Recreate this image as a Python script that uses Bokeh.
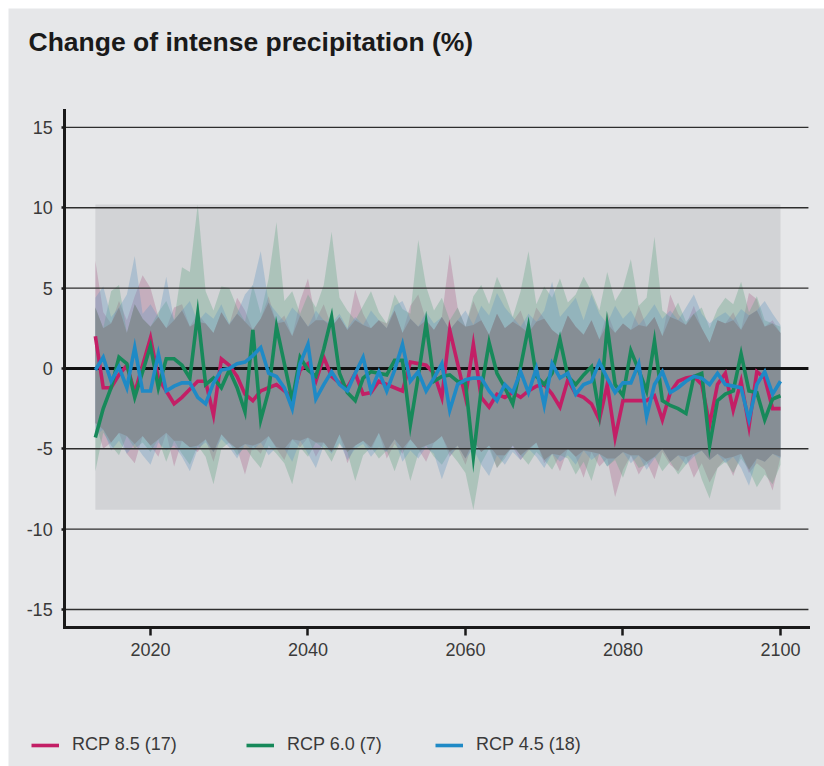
import numpy as np
from bokeh.plotting import figure
from bokeh.models import Range1d, FixedTicker, Legend, LegendItem, Label
from bokeh.embed import file_html
from bokeh.resources import INLINE

years = list(range(2013, 2101))

rcp85 = [2.0, -1.2, -1.2, -0.4, 0.2, -1.5, 0.2, 1.9, -0.6, -1.4,
         -2.2, -1.8, -1.3, -0.8, -0.8, -2.9, 0.6, 0.2, -0.5, -1.6,
         -2.0, -1.4, -1.2, -1.0, -1.4, -1.8, -0.1, 0.3, -0.8, 0.7,
         -0.5, -0.9, -1.2, -0.3, -1.6, -1.5, -0.8, -1.0, -1.2, -1.4,
         0.4, 0.3, 0.2, -0.3, -1.8, 2.4, 0.3, -1.8, 1.5, -1.8,
         -2.4, -1.6, -1.8, -1.5, -1.8, -1.4, -1.1, -1.0, -1.6, -2.4,
         -0.7, -1.6, -1.8, -2.2, -3.2, -1.0, -4.3, -2.0, -2.0, -2.0,
         -2.0, -1.7, -3.2, -1.5, -0.8, -0.6, -0.5, -1.0, -3.5, -1.0,
         -0.3, -2.6, -0.8, -3.6, -0.2, -0.6, -2.5, -2.5]
rcp60 = [-4.3, -2.5, -1.2, 0.7, 0.3, -1.8, -0.2, 1.4, -1.2, 0.6,
         0.6, 0.2, -0.6, 3.4, -1.0, -0.6, -1.2, -0.1, -1.2, -2.7,
         2.4, -3.2, -1.4, 2.6, 0.3, -2.0, 0.7, -0.1, -0.5, 1.2,
         3.2, -0.3, -1.5, -2.0, -0.6, -0.2, -0.3, -0.4, 0.5, 0.5,
         -3.5, -0.5, 2.8, -0.8, -0.5, -0.4, -0.8, -0.9, -5.5, -1.3,
         1.6, -0.3, -1.2, -2.2, 0.1, 2.6, -0.5, -1.0, -0.3, 1.8,
         -0.5, -1.0, -0.4, 0.1, -2.8, 2.6, -1.0, -1.7, 1.1, -0.1,
         -1.4, 1.7, -2.0, -2.3, -2.5, -2.8, -0.5, -0.3, -4.8, -2.0,
         -1.6, -1.4, 0.9, -1.4, -1.5, -3.2, -1.9, -1.7]
rcp45 = [-0.1, 0.7, -0.8, 0.1, -1.2, 1.3, -1.4, -1.4, 0.9, -1.4,
         -1.1, -0.9, -0.9, -1.8, -2.2, -0.9, -0.1, 0.0, 0.3, 0.4,
         0.8, 1.3, -0.3, -0.5, -1.2, -2.5, 0.3, 1.5, -1.9, -1.0,
         -0.2, -1.0, -1.4, -0.3, 0.7, -1.4, -0.2, -1.4, -0.1, 1.5,
         -0.8, -0.2, -1.4, -0.6, 0.3, -2.6, -1.0, -0.7, -0.6, -0.6,
         -1.4, -2.0, -1.0, -1.5, -0.2, -1.5, 0.0, -2.3, 0.3, -0.6,
         -0.3, -1.6, -1.0, -0.8, 0.4, -0.6, -1.5, -0.9, -0.9, 0.3,
         -3.0, -1.0, -0.2, -1.5, -1.2, -0.8, -0.5, -0.6, -1.0, -0.3,
         -1.0, -1.1, -1.2, -3.2, -1.0, -0.2, -1.6, -0.8]

rcp85_hi = [6.7, 3.5, 2.8, 4.2, 3.0, 4.5, 5.8, 5.0, 3.2, 2.5,
            3.8, 4.0, 2.6, 3.4, 2.8, 2.2, 3.5, 2.7, 4.4, 3.6,
            2.4, 3.1, 4.5, 2.8, 3.3, 2.0, 4.2, 5.6, 3.0, 4.0,
            2.6, 3.2, 2.4, 4.9, 3.4, 2.5, 3.0, 2.8, 3.6, 2.2,
            3.9, 4.6, 3.0, 2.4, 3.2, 7.1, 3.8, 2.6, 4.2, 3.0,
            2.1, 3.4, 2.5, 2.9, 3.6, 2.2, 3.8, 3.1, 2.4, 2.0,
            3.3, 2.6, 2.1, 3.0, 1.8, 3.5, 2.2, 2.8, 2.4, 3.9,
            2.6, 3.2, 2.0, 4.6, 3.4, 2.7, 3.9, 2.5, 1.6, 3.0,
            2.8, 3.5, 2.4, 4.7, 4.3, 2.6, 3.0, 2.2]
rcp85_lo = [-3.4, -5.0, -4.6, -4.0, -5.3, -5.9, -4.2, -4.8, -5.5, -4.0,
            -6.1, -4.5, -4.9, -5.2, -4.4, -5.8, -4.1, -4.7, -5.0, -6.6,
            -4.8, -5.3, -4.2, -5.0, -5.7, -4.4, -4.9, -4.3, -5.5, -4.6,
            -5.2, -4.1, -5.9, -4.8, -4.5, -5.1, -4.0, -5.6, -4.7, -5.3,
            -4.4, -5.0, -5.8, -4.6, -4.2, -5.5, -4.9, -6.0, -4.5, -5.2,
            -4.8, -6.2, -5.4, -4.9, -5.7, -5.1, -4.6, -5.9, -5.3, -6.4,
            -5.0, -5.5, -6.8, -5.2, -6.1, -5.6, -8.0, -6.3, -5.4, -6.6,
            -5.8, -6.9, -5.2, -6.0, -6.4, -5.5, -6.8, -5.9, -7.1, -6.2,
            -5.6, -6.7, -5.3, -6.5, -5.9, -6.3, -7.6, -5.5]
rcp60_hi = [3.8, 2.5, 4.8, 5.2, 2.2, 4.0, 3.1, 2.6, 3.5, 4.2,
            3.0, 6.3, 6.0, 10.2, 4.8, 3.6, 5.1, 5.0, 3.8, 2.9,
            5.2, 3.4, 5.6, 9.1, 4.2, 4.8, 3.4, 4.6, 3.8, 5.2,
            8.5, 4.4, 3.6, 3.0, 3.9, 4.8, 3.5, 2.8, 4.6, 3.7,
            3.4, 8.0, 5.1, 3.6, 4.4, 3.0, 3.8, 2.6, 4.5, 5.2,
            4.0, 5.7, 4.6, 3.2, 4.8, 7.3, 4.0, 5.1, 4.4, 5.6,
            4.1, 4.6, 5.7, 4.8, 3.6, 6.0, 4.2, 5.0, 6.8, 3.9,
            4.4, 8.2, 3.6, 3.2, 4.1, 2.9, 3.4, 3.8, 2.5, 3.7,
            4.4, 4.0, 5.4, 3.5, 4.5, 3.0, 2.8, 2.6]
rcp60_lo = [-6.4, -4.0, -4.8, -5.4, -4.2, -5.0, -4.6, -5.2, -4.4, -5.8,
            -4.5, -5.3, -6.0, -4.8, -5.5, -7.2, -5.0, -4.6, -5.4, -4.9,
            -5.6, -6.2, -4.8, -5.3, -5.9, -7.2, -4.9, -5.5, -4.6, -5.0,
            -5.8, -4.7, -5.2, -7.0, -5.4, -4.9, -5.6, -5.1, -6.4, -5.0,
            -7.0, -5.3, -4.8, -5.5, -6.0, -5.2, -5.8, -6.5, -8.8, -5.9,
            -5.0, -6.2, -5.6, -4.8, -5.4, -6.0, -5.2, -5.7, -6.3, -5.4,
            -5.6, -6.6, -5.8, -7.0, -5.3, -6.1, -5.7, -6.8, -5.4, -6.2,
            -6.0, -5.5, -6.4, -5.8, -6.6, -6.0, -5.3, -6.9, -8.1, -6.2,
            -5.8, -6.5, -5.6, -6.3, -7.4, -6.6, -7.2, -6.0]
rcp45_hi = [4.4, 5.1, 3.2, 3.8, 4.6, 7.0, 3.4, 4.0, 3.2, 5.7,
            3.0, 3.6, 4.2, 2.9, 3.5, 3.1, 4.0, 2.8, 3.4, 4.6,
            5.2, 7.3, 4.1, 3.5, 2.9, 3.8, 3.3, 2.6, 3.6, 3.0,
            2.8, 3.4, 2.5, 3.2, 2.7, 3.6, 3.0, 2.5, 3.9, 4.2,
            3.1, 2.6, 3.5, 2.8, 3.2, 2.4, 3.0, 3.6, 2.7, 3.9,
            3.3, 4.7, 3.8, 3.2, 2.6, 3.4, 2.9, 3.6, 5.4, 3.2,
            3.8, 4.4, 3.0, 4.6, 3.4, 2.8, 3.9, 3.1, 3.6, 2.7,
            3.3, 4.0, 3.1, 3.6, 3.0, 3.8, 4.6, 3.4, 2.8, 3.2,
            3.5, 3.0, 3.7, 3.3, 3.6, 4.2, 3.4, 2.7]
rcp45_lo = [-4.2, -3.8, -5.1, -4.5, -5.3, -4.7, -5.4, -6.0, -4.6, -5.1,
            -4.8, -5.5, -6.4, -5.0, -4.6, -5.2, -4.4, -4.9, -5.6, -4.7,
            -5.1, -4.6, -5.4, -4.9, -5.0, -5.8, -4.5, -5.3, -6.2, -4.8,
            -5.3, -4.6, -5.7, -5.0, -4.7, -5.5, -4.9, -5.2, -4.4, -5.8,
            -5.1, -5.6, -4.9, -5.3, -6.9, -5.5, -4.8, -5.6, -5.0, -6.0,
            -6.7, -5.4, -6.0, -5.2, -5.7, -5.0, -5.5, -6.2, -5.3, -5.8,
            -5.4, -6.0, -5.1, -5.7, -5.3, -6.1, -5.6, -5.2, -5.9, -5.4,
            -6.3, -5.6, -5.0, -5.8, -5.4, -6.0, -5.5, -5.1, -5.7, -5.3,
            -5.9, -5.5, -6.2, -7.3, -5.6, -5.8, -5.3, -5.6]

labels = ["RCP 8.5 (17)", "RCP 6.0 (7)", "RCP 4.5 (18)"]
line_colors = ["#c31f66", "#17895a", "#1f8ac6"]
band_colors = ["#aa5f8a", "#5ea27e", "#5f95c2"]
x_ticks = [2020, 2040, 2060, 2080, 2100]
y_ticks = [-15, -10, -5, 0, 5, 10, 15]
title_text = "Change of intense precipitation (%)"

# axis extents (data units) and the canvas window around them
AX_X0, AX_X1 = 2009.1, 2103.55
AX_Y0, AX_Y1 = -16.1, 16.05
VIEW_X = (2001.97, 2105.59)
VIEW_Y = (-24.77, 22.40)

BG = "#e6e7e9"
FONT = "Liberation Sans"
TXT = "#3a3a3a"

p = figure(width=816, height=758, title=None,
           x_range=Range1d(*VIEW_X), y_range=Range1d(*VIEW_Y),
           output_backend="svg", toolbar_location=None, min_border=0,
           margin=(8, 0, 0, 8))
p.background_fill_color = BG
p.border_fill_color = BG
p.outline_line_color = None
p.grid.visible = False

lows = [rcp85_lo, rcp60_lo, rcp45_lo]
highs = [rcp85_hi, rcp60_hi, rcp45_hi]
env_low = min(min(v) for v in lows)
env_high = max(max(v) for v in highs)

# grey envelope box around all model ranges
p.quad(left=[years[0]], right=[years[-1]], bottom=[env_low], top=[env_high],
       fill_color="#d2d3d6", line_color=None)

# model spread per scenario
for lo, hi, c in zip(lows, highs, band_colors):
    p.varea(x=years, y1=lo, y2=hi, fill_color=c, fill_alpha=0.32)

# part shared by all three ranges
core_lo = np.maximum.reduce([np.array(v) for v in lows])
core_hi = np.minimum.reduce([np.array(v) for v in highs])
p.varea(x=years, y1=core_lo, y2=core_hi, fill_color="#85888f", fill_alpha=0.8)

# horizontal grid lines (zero line heavier)
other = [t for t in y_ticks if t != 0]
p.segment(x0=[AX_X0] * len(other), x1=[AX_X1] * len(other), y0=other, y1=other,
          line_color="#2e2e2e", line_width=1.4)
p.segment(x0=[AX_X0], x1=[AX_X1], y0=[0], y1=[0], line_color="#111111", line_width=3)

renderers = []
for series, c in zip([rcp85, rcp60, rcp45], line_colors):
    renderers.append(p.line(years, series, line_color=c, line_width=3.6,
                            line_join="miter"))

for ax in (p.xaxis, p.yaxis):
    ax.axis_line_color = "#1a1a1a"
    ax.axis_line_width = 3
    ax.axis_line_cap = "square"
    ax.major_tick_line_color = "#1a1a1a"
    ax.major_tick_line_width = 2.5
    ax.major_tick_in = 0
    ax.minor_tick_line_color = None
    ax.major_label_text_font = FONT
    ax.major_label_text_font_size = "18px"
    ax.major_label_text_color = TXT

p.xaxis.ticker = FixedTicker(ticks=x_ticks)
p.yaxis.ticker = FixedTicker(ticks=y_ticks)
p.yaxis.major_label_overrides = {t: str(t) for t in y_ticks}
p.xaxis.fixed_location = AX_Y0
p.yaxis.fixed_location = AX_X0
p.xaxis.bounds = (AX_X0, AX_X1)
p.yaxis.bounds = (AX_Y0, AX_Y1)
p.xaxis.major_tick_out = 8
p.yaxis.major_tick_out = 3
p.xaxis.major_label_standoff = 8
p.yaxis.major_label_standoff = 9

p.add_layout(Label(x=20, y=725, x_units="screen", y_units="screen",
                   text=title_text, text_font=FONT, text_font_style="bold",
                   text_font_size="26.5px", text_color="#1a1a1a",
                   text_baseline="alphabetic"))

legend_x = [23, 238, 427]
for lab, r, lx in zip(labels, renderers, legend_x):
    p.add_layout(Legend(items=[LegendItem(label=lab, renderers=[r])],
                        location=(lx, 11), orientation="horizontal",
                        glyph_width=28, glyph_height=20, label_standoff=13,
                        padding=0, margin=0, border_line_color=None,
                        background_fill_alpha=0,
                        label_text_font=FONT, label_text_font_size="18px",
                        label_text_color=TXT))

open("out.html", "w").write(file_html(p, INLINE))
